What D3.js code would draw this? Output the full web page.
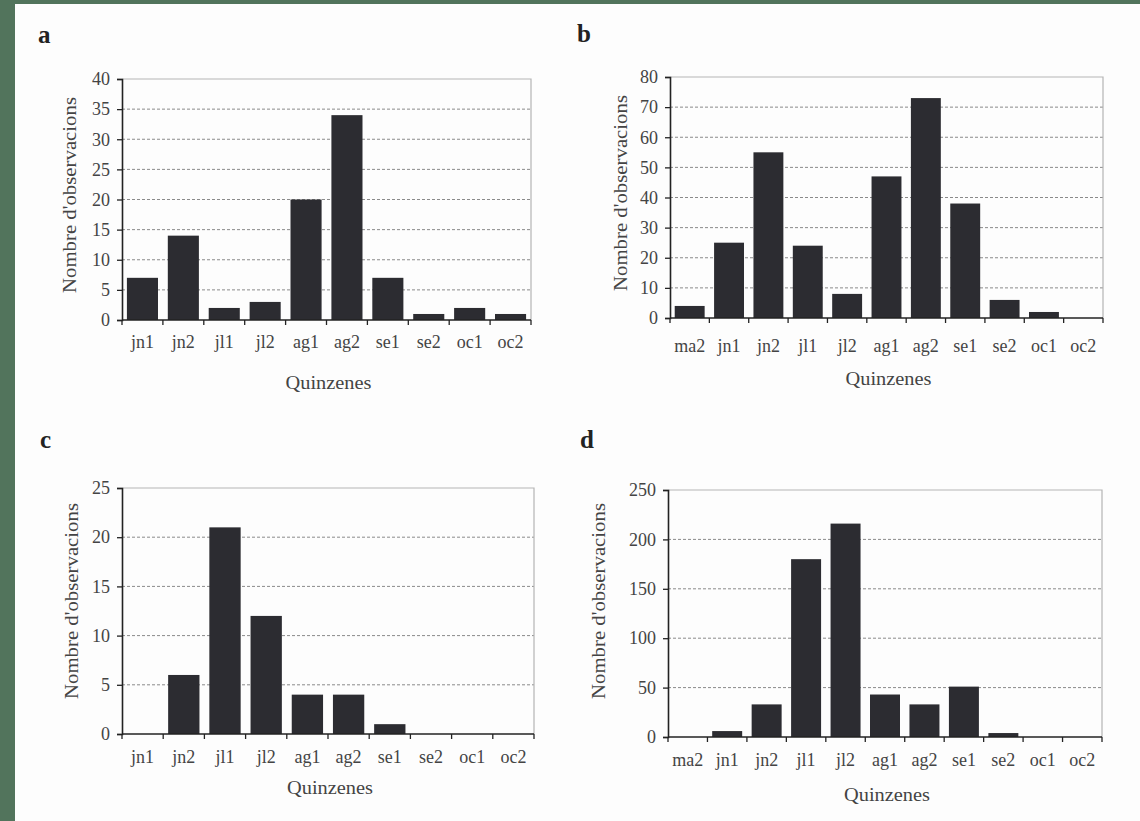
<!DOCTYPE html>
<html>
<head>
<meta charset="utf-8">
<script src="https://cdn.jsdelivr.net/npm/d3@7"></script>
<style>
  html, body { margin: 0; padding: 0; background: #52745c; }
  svg { display: block; }
  text { font-family: "Liberation Serif", "DejaVu Serif", serif; fill: #3a3a3a; }
</style>
</head>
<body>
<svg id="chart" width="1140" height="821"></svg>
<script>
// quinzenes (fortnights)
const catsA = ["jn1", "jn2", "jl1", "jl2", "ag1", "ag2", "se1", "se2", "oc1", "oc2"];
const catsB = ["ma2", "jn1", "jn2", "jl1", "jl2", "ag1", "ag2", "se1", "se2", "oc1", "oc2"];

// nombre d'observacions per panel
const valuesA = [7, 14, 2, 3, 20, 34, 7, 1, 2, 1];
const valuesB = [4, 25, 55, 24, 8, 47, 73, 38, 6, 2, 0];
const valuesC = [0, 6, 21, 12, 4, 4, 1, 0, 0, 0];
const valuesD = [0, 6, 33, 180, 216, 43, 33, 51, 4, 0, 0];

const yMax = { a: 40, b: 80, c: 25, d: 250 };
const yStep = { a: 5, b: 10, c: 5, d: 50 };

const svg = d3.select("#chart");

// white page
svg.append("rect")
  .attr("x", 15).attr("y", 4)
  .attr("width", 1140 - 15).attr("height", 821 - 4)
  .attr("fill", "#fdfdfd");

function drawPanel(id, cats, values, box) {
  const x = d3.scaleBand()
    .domain(cats)
    .range([box.left, box.right])
    .paddingInner(0.24)
    .paddingOuter(0.12);

  const y = d3.scaleLinear()
    .domain([0, yMax[id]])
    .range([box.bottom, box.top]);

  const ticks = d3.range(0, yMax[id] + 1, yStep[id]);
  const g = svg.append("g");

  // panel letter
  g.append("text")
    .attr("x", box.letterX).attr("y", box.letterY)
    .attr("font-size", 25)
    .attr("font-weight", "bold")
    .style("fill", "#222")
    .text(id);

  // dashed grid
  g.append("g")
    .selectAll("line")
    .data(ticks.filter(t => t > 0 && t < yMax[id]))
    .join("line")
      .attr("x1", box.left).attr("x2", box.right)
      .attr("y1", d => y(d)).attr("y2", d => y(d))
      .attr("stroke", "#8a8a8a")
      .attr("stroke-width", 1)
      .attr("stroke-dasharray", "3,2");

  // top and right frame
  g.append("path")
    .attr("d", `M${box.left},${y(yMax[id])}H${box.right}V${box.bottom}`)
    .attr("fill", "none")
    .attr("stroke", "#b5b5b5")
    .attr("stroke-width", 1.2);

  g.append("g")
    .selectAll("rect")
    .data(values)
    .join("rect")
      .attr("x", (d, i) => x(cats[i]))
      .attr("y", d => y(d))
      .attr("width", x.bandwidth())
      .attr("height", d => box.bottom - y(d))
      .attr("fill", "#2c2c31");

  // y axis
  const yAxis = g.append("g")
    .attr("transform", `translate(${box.left},0)`)
    .call(d3.axisLeft(y).tickValues(ticks).tickSize(5).tickPadding(7).tickFormat(d3.format("d")));
  yAxis.select(".domain").attr("stroke", "#222").attr("stroke-width", 1.6);
  yAxis.selectAll(".tick line").attr("stroke", "#222").attr("stroke-width", 1.3);
  yAxis.selectAll(".tick text")
    .attr("font-size", 18)
    .attr("font-family", "Liberation Serif, serif")
    .style("fill", "#444");

  // x axis: ticks sit on the category boundaries
  const step = x.step();
  const xAxis = g.append("g");
  xAxis.append("line")
    .attr("x1", box.left).attr("x2", box.right)
    .attr("y1", box.bottom).attr("y2", box.bottom)
    .attr("stroke", "#222").attr("stroke-width", 1.6);
  xAxis.selectAll(".bound")
    .data(d3.range(cats.length + 1))
    .join("line")
      .attr("class", "bound")
      .attr("x1", i => box.left + i * step).attr("x2", i => box.left + i * step)
      .attr("y1", box.bottom).attr("y2", box.bottom + 5)
      .attr("stroke", "#222").attr("stroke-width", 1.3);
  xAxis.selectAll(".lbl")
    .data(cats)
    .join("text")
      .attr("class", "lbl")
      .attr("x", d => x(d) + x.bandwidth() / 2)
      .attr("y", box.labelY)
      .attr("text-anchor", "middle")
      .attr("font-size", 18)
      .style("fill", "#444")
      .text(d => d);

  // axis titles
  g.append("text")
    .attr("x", (box.left + box.right) / 2 + 2)
    .attr("y", box.titleY)
    .attr("text-anchor", "middle")
    .attr("font-size", 18)
    .attr("textLength", 86)
    .attr("lengthAdjust", "spacingAndGlyphs")
    .style("fill", "#444")
    .text("Quinzenes");

  g.append("text")
    .attr("transform", `translate(${box.ylabX},${box.ylabY}) rotate(-90)`)
    .attr("text-anchor", "middle")
    .attr("font-size", 18)
    .attr("textLength", 196)
    .attr("lengthAdjust", "spacingAndGlyphs")
    .style("fill", "#444")
    .text("Nombre d'observacions");
}

drawPanel("a", catsA, valuesA, {
  left: 122, right: 531, top: 79, bottom: 320,
  labelY: 348, titleY: 389, ylabX: 76, ylabY: 195, letterX: 38, letterY: 43
});
drawPanel("b", catsB, valuesB, {
  left: 670, right: 1103, top: 77, bottom: 318,
  labelY: 352, titleY: 385, ylabX: 627, ylabY: 193, letterX: 577, letterY: 42
});
drawPanel("c", catsA, valuesC, {
  left: 122, right: 534, top: 488, bottom: 734,
  labelY: 763, titleY: 794, ylabX: 78, ylabY: 601, letterX: 40, letterY: 448
});
drawPanel("d", catsB, valuesD, {
  left: 668, right: 1102, top: 490, bottom: 737,
  labelY: 766, titleY: 801, ylabX: 605, ylabY: 601, letterX: 580, letterY: 448
});
</script>
</body>
</html>
